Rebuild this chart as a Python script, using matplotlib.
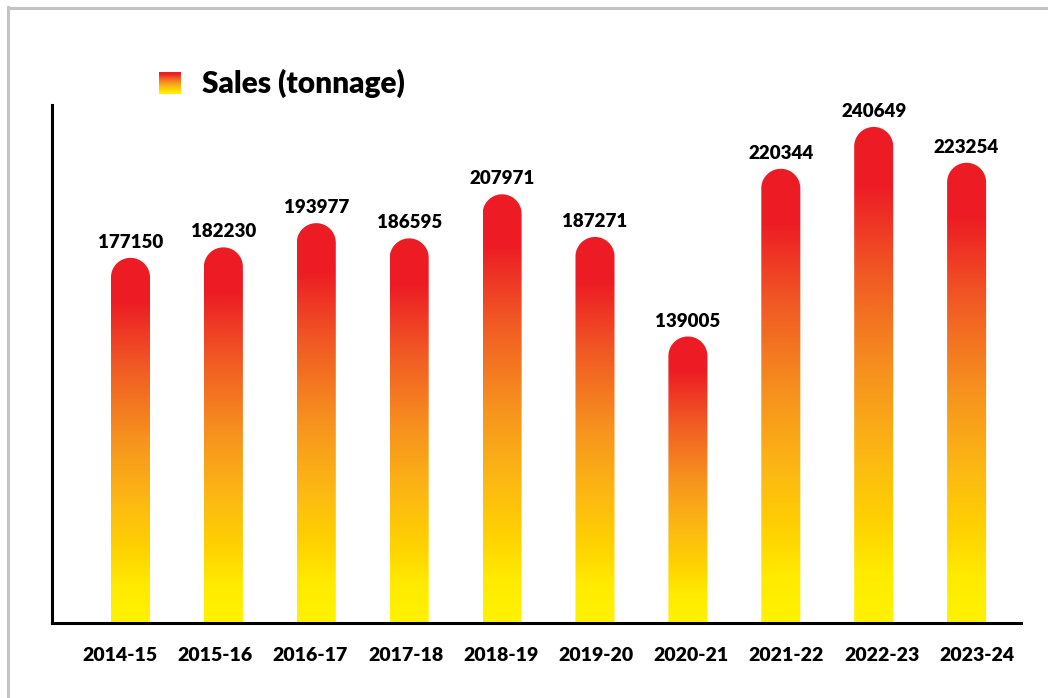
import numpy as np
import matplotlib
matplotlib.use("Agg")
import matplotlib.pyplot as plt
from matplotlib.path import Path
from matplotlib.patches import PathPatch
from matplotlib.colors import LinearSegmentedColormap
from matplotlib.lines import Line2D

years = ["2014-15", "2015-16", "2016-17", "2017-18", "2018-19",
         "2019-20", "2020-21", "2021-22", "2022-23", "2023-24"]
sales = [177150, 182230, 193977, 186595, 207971,
         187271, 139005, 220344, 240649, 223254]
legend_label = "Sales (tonnage)"

plt.rcParams['font.family'] = ['Lato', 'DejaVu Sans']
WEIGHT = "heavy"

# gradient: bottom (0) yellow -> top (1) red
cmap = LinearSegmentedColormap.from_list("grad", [
    (0.00, "#FFF200"), (0.10, "#FFEB00"), (0.20, "#FFD200"), (0.32, "#FDBB12"),
    (0.50, "#F7931E"), (0.70, "#F15A24"), (0.88, "#ED1C24"), (1.00, "#ED1C24")])
grad = np.linspace(0, 1, 256).reshape(-1, 1)

fig = plt.figure(figsize=(10.48, 6.98), dpi=100)
ax = fig.add_axes([0.0496, 0.1074, 0.9246, 0.7422])

x = np.arange(len(years))
w = 0.42
xlim = (-0.845, 9.585)
ylim = (0, 251300)
ax.set_xlim(*xlim)
ax.set_ylim(*ylim)

# pixel scales to make round caps circular
bbox = ax.get_window_extent()
px_x = bbox.width / (xlim[1] - xlim[0])
px_y = bbox.height / (ylim[1] - ylim[0])
rx = w / 2
ry = rx * px_x / px_y

for xi, v in zip(x, sales):
    t = np.linspace(0, np.pi, 60)
    verts = [(xi - rx, 0), (xi + rx, 0), (xi + rx, v - ry)]
    verts += [(xi + rx * np.cos(tt), v - ry + ry * np.sin(tt)) for tt in t[1:]]
    verts += [(xi - rx, 0)]
    codes = [Path.MOVETO] + [Path.LINETO] * (len(verts) - 2) + [Path.CLOSEPOLY]
    patch = PathPatch(Path(verts, codes), facecolor="none", edgecolor="none")
    ax.add_patch(patch)
    im = ax.imshow(grad, cmap=cmap, origin="lower", aspect="auto",
                   extent=[xi - rx, xi + rx, 0, v], zorder=2)
    im.set_clip_path(patch)
    ax.annotate(f"{v}", (xi, v), xytext=(0, 5), textcoords="offset points",
                ha="center", va="bottom", fontsize=13.5, fontweight=WEIGHT)

ax.set_xlim(*xlim)
ax.set_ylim(*ylim)

label_pos = -0.113 + x * 1.0248
ax.set_xticks(label_pos)
ax.set_xticklabels(years, fontsize=14, fontweight=WEIGHT)
ax.tick_params(axis="x", length=0, pad=17)
ax.set_yticks([])
for s in ["top", "right"]:
    ax.spines[s].set_visible(False)
for s in ["left", "bottom"]:
    ax.spines[s].set_linewidth(2.2)
    ax.spines[s].set_color("black")
ax.spines["left"].set_zorder(3)
ax.spines["bottom"].set_zorder(3)

# legend
W, H = 1048, 698
lax = fig.add_axes([159 / W, 1 - 94 / H, 22 / W, 22 / H])
lax.imshow(grad, cmap=cmap, origin="lower", aspect="auto")
lax.axis("off")
fig.text(202 / W, 1 - 83 / H, legend_label, fontsize=21.5, fontweight=WEIGHT,
         ha="left", va="center")

# frame
fig.add_artist(Line2D([7.5 / W, 1], [1 - 8 / H, 1 - 8 / H], color="#C4C4C4", lw=2.2,
                      transform=fig.transFigure))
fig.add_artist(Line2D([8 / W, 8 / W], [0, 1 - 7 / H], color="#C4C4C4", lw=2.2,
                      transform=fig.transFigure))

fig.savefig("out.png", dpi=100)
